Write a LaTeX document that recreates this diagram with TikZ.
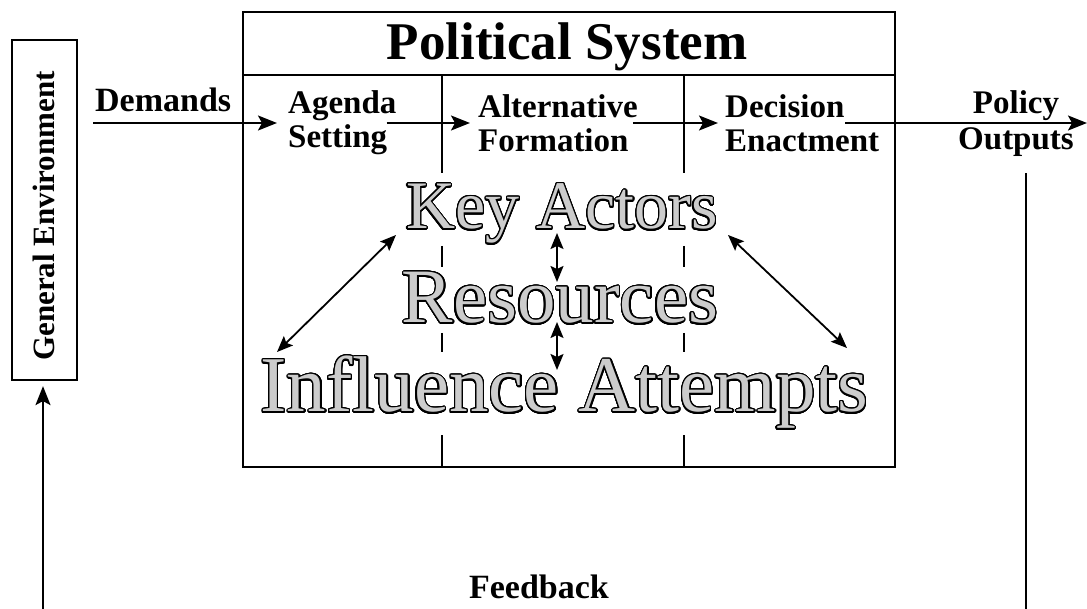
\documentclass[tikz,border=0pt]{standalone}
\usepackage{fontspec}
\setmainfont{Liberation Serif}
\usepackage{contour}
\usetikzlibrary{arrows.meta,positioning,calc}
\contourlength{1.3pt}
\contournumber{32}

\begin{document}
\begin{tikzpicture}[x=1pt, y=-1pt,
    sysbox/.style={rectangle, draw, line width=2.2pt, minimum width=652pt, minimum height=455pt, inner sep=0pt},
    envbox/.style={rectangle, draw, line width=2.2pt, minimum width=65pt, minimum height=340pt, inner sep=0pt},
    headline/.style={font=\bfseries\fontsize{53}{60}\selectfont, inner sep=0pt, anchor=base},
    stagetxt/.style={font=\bfseries\fontsize{33}{34}\selectfont, align=left, inner sep=0pt, anchor=west},
    plaintxt/.style={font=\bfseries\fontsize{34}{34}\selectfont, inner sep=0pt},
    actortxt/.style={text=black!20, inner sep=0pt, anchor=base},
    flowarrow/.style={line width=2pt, -{Stealth[length=19pt, width=15pt, inset=4pt]}},
    linkarrow/.style={line width=1.8pt, {Stealth[length=16pt, width=13pt, inset=3pt]}-{Stealth[length=16pt, width=13pt, inset=3pt]}},
    divline/.style={line width=2pt}]

    \useasboundingbox (0,0) rectangle (1087,609);

    % political system box
    \node[sysbox] (polsys) at (569,239.5) {};
    \node[headline] (title) at (567,60) {Political System};
    \draw[divline] (polsys.west |- 0,75) -- (polsys.east |- 0,75);
    \foreach \x in {442,684} {
        \draw[divline] (\x,75) -- (\x,173);
        \draw[divline] (\x,246) -- (\x,267);
        \draw[divline] (\x,333) -- (\x,352);
        \draw[divline] (\x,435) -- (polsys.south -| \x,0);
    }

    % environment
    \node[envbox] (genenv) at (44.5,210) {};
    \node[plaintxt, font=\bfseries\fontsize{31}{31}\selectfont, rotate=90] (envtext) at (44,216) {General Environment};

    % stages
    \node[plaintxt, anchor=base west] (demands) at (95,112) {Demands};
    \node[stagetxt] (agenda) at (288,123) {Agenda\\Setting};
    \node[stagetxt] (altern) at (478,123) {Alternative\\Formation};
    \node[stagetxt] (decide) at (725,123) {Decision\\Enactment};
    \node[plaintxt, align=center, font=\bfseries\fontsize{33}{36}\selectfont] (policy) at (1016,124) {Policy\\Outputs};

    % actors
    \node[actortxt, font=\fontsize{68}{80}\selectfont] (key) at (562,229) {\contour{black}{Key Actors}};
    \node[actortxt, font=\fontsize{77}{90}\selectfont] (res) at (560,323) {\contour{black}{Resources}};
    \node[actortxt, font=\fontsize{79}{90}\selectfont] (infl) at (564.5,412) {\contour{black}{Influence Attempts}};

    \node[plaintxt, anchor=base] (feedback) at (539,598) {Feedback};

    \coordinate (envout) at (93,123);
    \coordinate (sysout) at (1087,123);
    \coordinate (fbl) at (43,609);
    \coordinate (fbr) at (1026,609);

    % flow arrows
    \draw[flowarrow, shorten >=11pt] (envout) -- (envout -| agenda.west);
    \draw[flowarrow, shorten >=8pt] ([xshift=-10pt]agenda.east) -- (altern.west);
    \draw[flowarrow, shorten >=7pt] ([xshift=-5pt]altern.east) -- (decide.west);
    \draw[flowarrow] ([xshift=-34pt]decide.east) -- (sysout);

    % links between actors
    \draw[linkarrow] ($(key.base)+(-5,4)$) -- ($(res.base)+(-3,-41)$);
    \draw[linkarrow] ($(res.base)+(-3,-1)$) -- ($(infl.base)+(-7.5,-42)$);
    \draw[linkarrow] ($(key.base)+(-166,6)$) -- ($(infl.base)+(-287.5,-60)$);
    \draw[linkarrow] ($(key.base)+(166,6)$) -- ($(infl.base)+(282.5,-64)$);

    % feedback
    \draw[divline, shorten <=16pt] (fbr |- policy.south) -- (fbr);
    \draw[flowarrow, shorten >=5pt] (fbl) -- (fbl |- genenv.south);

\end{tikzpicture}
\end{document}
